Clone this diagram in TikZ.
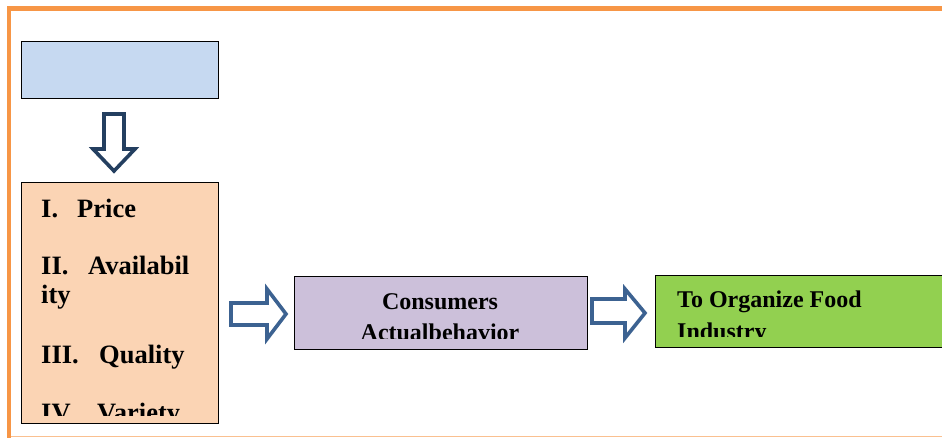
\documentclass[tikz,border=0pt]{standalone}
\usepackage{fontspec}
\setmainfont{Liberation Serif}
\definecolor{frameorange}{HTML}{F79646}
\definecolor{framelight}{HTML}{FAC090}
\definecolor{boxblue}{HTML}{C6D9F1}
\definecolor{boxorange}{HTML}{FBD4B4}
\definecolor{boxpurple}{HTML}{CCC0DA}
\definecolor{boxgreen}{HTML}{92D050}
\definecolor{arrownavy}{HTML}{243F60}
\definecolor{arrowsteel}{HTML}{3C6291}
\tikzset{
  box/.style={draw=black, line width=1.3pt, inner sep=0pt, anchor=north west},
  lbl/.style={inner sep=0pt, font=\fontsize{24}{28}\selectfont\bfseries, text=black},
  biglbl/.style={inner sep=0pt, font=\fontsize{26.5}{30}\selectfont\bfseries, text=black},
  blockarrow/.style={line width=3.6pt, fill=white, line join=miter},
}
\begin{document}
\begin{tikzpicture}[x=1pt,y=-1pt]
\clip (0,0) rectangle (942,438);
\fill[white] (0,0) rectangle (942,438);
% frame
\draw[framelight, line width=1.5pt] (9,436.5) -- (942,436.5);
\draw[frameorange, line width=4.5pt] (9,438) -- (9,8.5) -- (942,8.5);

% boxes
\node[box, fill=boxblue, minimum width=197pt, minimum height=57pt] (top) at (21,41) {};
\node[box, fill=boxorange, minimum width=197pt, minimum height=241pt] (factors) at (21,182) {};
\node[box, fill=boxpurple, minimum width=293pt, minimum height=73pt] (behav) at (294,276) {};
\node[box, fill=boxgreen, minimum width=300pt, minimum height=72pt] (industry) at (655,275) {};

% texts in orange box
\begin{scope}
\clip (22,183) rectangle (217,415);
\node[biglbl, anchor=base west] (p1) at (41,218) {I.};
\node[biglbl, anchor=base west] (p1t) at (77,218) {Price};
\node[biglbl, anchor=base west] (p2) at (41,275) {II.};
\node[biglbl, anchor=base west] (p2t) at (88,275) {Availabil};
\node[biglbl, anchor=base west] (p2c) at (41,304) {ity};
\node[biglbl, anchor=base west] (p3) at (41,363) {III.};
\node[biglbl, anchor=base west] (p3t) at (99,363) {Quality};
\node[biglbl, anchor=base west] (p4) at (41,421) {IV.};
\node[biglbl, anchor=base west] (p4t) at (97,421) {Variety};
\end{scope}

% texts in purple box
\begin{scope}
\clip (295,277) rectangle (586,338);
\node[lbl, anchor=base] (b1) at (440,309) {Consumers};
\node[lbl, anchor=base] (b2) at (440,340) {Actualbehavior};
\end{scope}

% texts in green box
\begin{scope}
\clip (656,276) rectangle (942,336);
\node[lbl, anchor=base west] (g1) at (677,308) {To Organize Food};
\node[lbl, anchor=base west] (g2) at (677,339) {Industry};
\end{scope}

% block arrows
\draw[blockarrow, draw=arrownavy] (104,114) -- (124,114) -- (124,149) -- (135,149) -- (114,171) -- (93,149) -- (104,149) -- cycle;
\draw[blockarrow, draw=arrowsteel] (231,303) -- (267,303) -- (267,289) -- (286,314) -- (267,339) -- (267,325) -- (231,325) -- cycle;
\draw[blockarrow, draw=arrowsteel] (592,299) -- (625,299) -- (625,289) -- (645,313) -- (625,338) -- (625,323) -- (592,323) -- cycle;
\end{tikzpicture}
\end{document}
